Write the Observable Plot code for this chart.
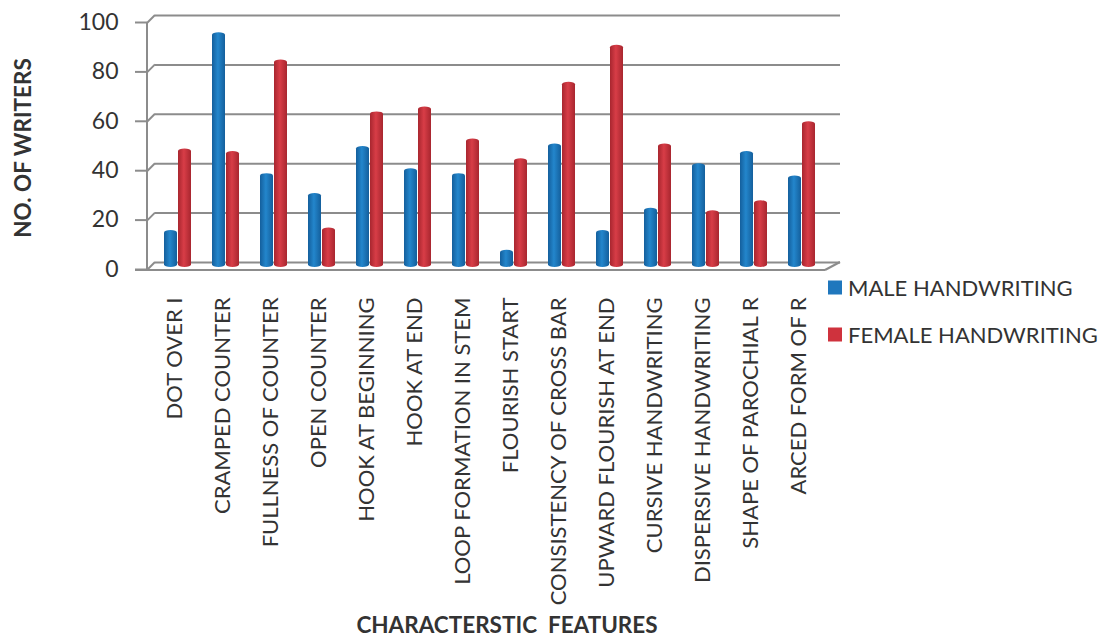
<!DOCTYPE html>
<html><head><meta charset="utf-8">
<script src="https://cdn.jsdelivr.net/npm/d3@7"></script>
<script src="https://cdn.jsdelivr.net/npm/@observablehq/plot@0.6"></script>
<style>
body{margin:0;background:#fff;font-family:Lato,"Open Sans",sans-serif;}
#wrap{position:relative;width:1098px;height:638px;overflow:hidden;}
.ttl{position:absolute;font-weight:bold;color:#333;font-size:22.5px;white-space:pre;}
.leg{position:absolute;font-size:22px;color:#333;white-space:nowrap;display:flex;align-items:center;}
.sw{display:inline-block;width:14px;height:14px;margin-right:6px;}
</style></head><body><div id="wrap"></div>
<script>
const categories = ["DOT OVER I","CRAMPED COUNTER","FULLNESS OF COUNTER","OPEN COUNTER","HOOK AT BEGINNING","HOOK AT END","LOOP FORMATION IN STEM","FLOURISH START","CONSISTENCY OF CROSS BAR","UPWARD FLOURISH AT END","CURSIVE HANDWRITING","DISPERSIVE HANDWRITING","SHAPE OF PAROCHIAL R","ARCED FORM OF R"];
const maleValues = [15,95,38,30,49,40,38,7,50,15,24,42,47,37];
const femaleValues = [48,47,84,16,63,65,52,44,75,90,50,23,27,59];
const seriesNames = ["MALE HANDWRITING","FEMALE HANDWRITING"];
const seriesColors = ["#1f77bd","#cf323d"];
const yTicks = [0,20,40,60,80,100];
const xTitle = "CHARACTERSTIC  FEATURES";
const yTitle = "NO. OF WRITERS";

const data = categories.map((c,i)=>({category:c, male:maleValues[i], female:femaleValues[i]}));

const frame3d = (index, scales, values, dims) => {
  const y = scales.y;
  const L = dims.marginLeft, R = dims.width - dims.marginRight;
  const g = d3.create("svg:g").attr("stroke","#8c8c8c").attr("stroke-width",2).attr("fill","none");
  g.append("line").attr("x1",L).attr("x2",L).attr("y1",y(0)+3).attr("y2",y(100)+3);
  for (const t of yTicks) g.append("line").attr("x1",L).attr("y1",y(t)+3).attr("x2",L+8).attr("y2",y(t)-5);
  g.append("line").attr("x1",L-12).attr("x2",R-7).attr("y1",y(0)+3).attr("y2",y(0)+3);
  g.append("line").attr("x1",R-7).attr("y1",y(0)+3).attr("x2",R+8).attr("y2",y(0)-5);
  return g.node();
};

const chart = Plot.plot({
  width:1098, height:638,
  marginLeft:147, marginRight:266, marginTop:20, marginBottom:371,
  x:{domain:categories, paddingInner:0.43, paddingOuter:0.235, axis:null},
  y:{domain:[0,100], axis:null},
  style:{fontFamily:"Lato, 'Open Sans', sans-serif", color:"#333", background:"white"},
  marks:[
    Plot.ruleY(yTicks,{dx:8, dy:-5, stroke:"#8c8c8c", strokeWidth:2}),
    frame3d,
    Plot.axisY(yTicks,{anchor:"left", tickSize:12, tickPadding:17, fontSize:23, dy:2, stroke:"#8c8c8c", strokeWidth:2, fill:"#333"}),
    Plot.axisX({anchor:"bottom", tickSize:0, tickRotate:-90, tickPadding:30, fontSize:22, dx:-3, label:null, fill:"#333"}),
    Plot.barY(data,{x:"category", y:"male", fill:"url(#gBlue)", insetRight:14, rx:7, ry:2.5}),
    Plot.barY(data,{x:"category", y:"female", fill:"url(#gRed)", insetLeft:14, rx:7, ry:2.5})
  ]
});

const svg = d3.select(chart);
const defs = svg.insert("defs",":first-child");
function grad(id, edge, mid) {
  const lg = defs.append("linearGradient").attr("id",id).attr("x1",0).attr("x2",1).attr("y1",0).attr("y2",0);
  lg.append("stop").attr("offset","0%").attr("stop-color",edge);
  lg.append("stop").attr("offset","45%").attr("stop-color",mid);
  lg.append("stop").attr("offset","100%").attr("stop-color",edge);
}
grad("gBlue","#145f9c","#2386cc");
grad("gRed","#a8262f","#d83d47");

const wrap = document.getElementById("wrap");
wrap.appendChild(chart);

const xt = document.createElement("div");
xt.className="ttl"; xt.textContent=xTitle;
xt.style.left="507px"; xt.style.top="624px"; xt.style.transform="translate(-50%,-50%)";
wrap.appendChild(xt);
const yt = document.createElement("div");
yt.className="ttl"; yt.textContent=yTitle;
yt.style.left="22px"; yt.style.top="148px"; yt.style.transform="translate(-50%,-50%) rotate(-90deg)";
wrap.appendChild(yt);

const legTops=[287,334];
seriesNames.forEach((n,i)=>{
  const d=document.createElement("div"); d.className="leg";
  d.style.left="828px"; d.style.top=legTops[i]+"px"; d.style.transform="translateY(-50%)";
  const s=document.createElement("span"); s.className="sw"; s.style.background=seriesColors[i];
  d.appendChild(s); d.appendChild(document.createTextNode(n));
  wrap.appendChild(d);
});
</script></body></html>
